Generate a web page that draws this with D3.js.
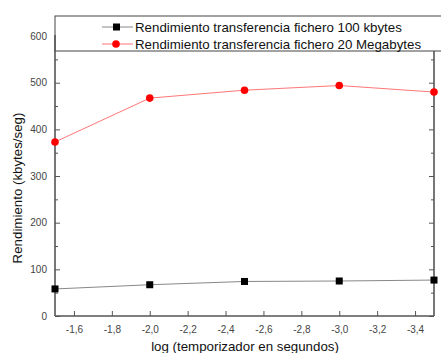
<!DOCTYPE html>
<html>
<head>
<meta charset="utf-8">
<script src="https://cdn.jsdelivr.net/npm/d3@7"></script>
<style>
  body { margin: 0; background: #fff; }
  svg { display: block; font-family: "Liberation Sans", Arial, sans-serif; }
</style>
</head>
<body>
<svg width="441" height="353"></svg>
<script>
// data
const logT = [-1.5, -2.0, -2.5, -3.0, -3.5];
const small100k = [58, 67, 74, 75, 77];
const big20M = [373, 467, 484, 494, 480];
const seriesNames = [
  "Rendimiento transferencia fichero 100 kbytes",
  "Rendimiento transferencia fichero 20 Megabytes"
];
const xTicks = [-1.6, -1.8, -2.0, -2.2, -2.4, -2.6, -2.8, -3.0, -3.2, -3.4];
const yTicks = [0, 100, 200, 300, 400, 500, 600];
const yMinor = [50, 150, 250, 350, 450, 550];

const svg = d3.select("svg");
const plotLeft = 55, plotRight = 434, plotTop = 16, plotBottom = 316;

const x = d3.scaleLinear().domain([-1.5, -3.5]).range([plotLeft, plotRight]);
const y = d3.scaleLinear().domain([0, 643]).range([plotBottom, plotTop]);

// comma decimals and a plain hyphen, as in the original
const fmt = (d) => d3.format(".1f")(d).replace(".", ",").replace("\u2212", "-");
const axisColor = "#555";

// bottom axis, ticks pointing inward
const xAxisG = svg.append("g")
  .attr("transform", `translate(0, ${plotBottom})`)
  .call(d3.axisBottom(x).tickValues(xTicks).tickSize(-5).tickPadding(10).tickFormat(fmt));
xAxisG.select(".domain").remove();
xAxisG.selectAll("line").attr("stroke", axisColor);
xAxisG.selectAll("text").attr("font-size", 10).attr("fill", "#444")
  .attr("font-family", "Liberation Sans, Arial, sans-serif");

// left axis
const yAxisG = svg.append("g")
  .attr("transform", `translate(${plotLeft}, 0)`)
  .call(d3.axisLeft(y).tickValues(yTicks).tickSize(-5).tickPadding(8));
yAxisG.select(".domain").remove();
yAxisG.selectAll("line").attr("stroke", axisColor);
yAxisG.selectAll("text").attr("font-size", 10).attr("fill", "#444")
  .attr("font-family", "Liberation Sans, Arial, sans-serif");

svg.append("g")
  .attr("transform", `translate(${plotLeft}, 0)`)
  .call(d3.axisLeft(y).tickValues(yMinor).tickSize(-3).tickFormat(""))
  .call((g) => g.select(".domain").remove())
  .selectAll("line").attr("stroke", axisColor);

// right axis (below the legend box)
const rightTicks = yTicks.concat(yMinor).filter((d) => y(d) > 52);
svg.append("g")
  .attr("transform", `translate(${plotRight}, 0)`)
  .call(d3.axisRight(y).tickValues(rightTicks).tickSize(0).tickFormat(""))
  .call((g) => g.select(".domain").remove())
  .selectAll(".tick line")
  .attr("x2", (d) => (yTicks.includes(d) ? -5 : -3))
  .attr("stroke", axisColor);

// legend box
svg.append("rect").attr("x", plotLeft).attr("y", plotTop).attr("width", 400).attr("height", 35)
  .attr("fill", "#fff").attr("stroke", "#444").attr("stroke-width", 1);

// frame lines
svg.append("line").attr("x1", plotLeft).attr("x2", plotLeft).attr("y1", y(600) - 1).attr("y2", plotBottom)
  .attr("stroke", axisColor).attr("stroke-width", 1.6);
svg.append("line").attr("x1", plotLeft).attr("x2", plotRight).attr("y1", plotBottom).attr("y2", plotBottom)
  .attr("stroke", axisColor).attr("stroke-width", 1.6);
svg.append("line").attr("x1", plotRight).attr("x2", plotRight).attr("y1", 51).attr("y2", plotBottom)
  .attr("stroke", axisColor).attr("stroke-width", 1.6);

// lines
const line = (vals) => d3.line()
  .x((d, i) => x(logT[i]))
  .y((d) => y(d))(vals);

svg.append("path").attr("d", line(small100k))
  .attr("fill", "none").attr("stroke", "#888").attr("stroke-width", 1);
svg.append("path").attr("d", line(big20M))
  .attr("fill", "none").attr("stroke", "#ff7777").attr("stroke-width", 1);

svg.selectAll(".sq").data(small100k).enter().append("rect")
  .attr("x", (d, i) => x(logT[i]) - 3.5)
  .attr("y", (d) => y(d) - 3.5)
  .attr("width", 7).attr("height", 7)
  .attr("fill", "#000");

svg.selectAll(".dot").data(big20M).enter().append("circle")
  .attr("cx", (d, i) => x(logT[i]))
  .attr("cy", (d) => y(d))
  .attr("r", 3.8)
  .attr("fill", "#ff0000");

const legend = svg.selectAll(".legend").data(seriesNames).enter().append("g")
  .attr("transform", (d, i) => `translate(0, ${27 + i * 17})`);
legend.append("line").attr("x1", 102).attr("x2", 133).attr("y1", 0).attr("y2", 0)
  .attr("stroke", (d, i) => (i === 0 ? "#888" : "#ff7777"));
legend.each(function (d, i) {
  const g = d3.select(this);
  if (i === 0) {
    g.append("rect").attr("x", 113).attr("y", -3.5).attr("width", 7).attr("height", 7).attr("fill", "#000");
  } else {
    g.append("circle").attr("cx", 116).attr("cy", 0).attr("r", 3.8).attr("fill", "#ff0000");
  }
});
legend.append("text").attr("x", 135).attr("y", 5)
  .attr("font-size", 13.3).attr("fill", "#111").text((d) => d);

// axis titles
svg.append("text").attr("x", 245).attr("y", 351)
  .attr("text-anchor", "middle").attr("font-size", 13.3).attr("fill", "#111")
  .text("log (temporizador en segundos)");
svg.append("text").attr("transform", `translate(22, 188) rotate(-90)`)
  .attr("text-anchor", "middle").attr("font-size", 13.3).attr("fill", "#111")
  .text("Rendimiento (kbytes/seg)");
</script>
</body>
</html>
